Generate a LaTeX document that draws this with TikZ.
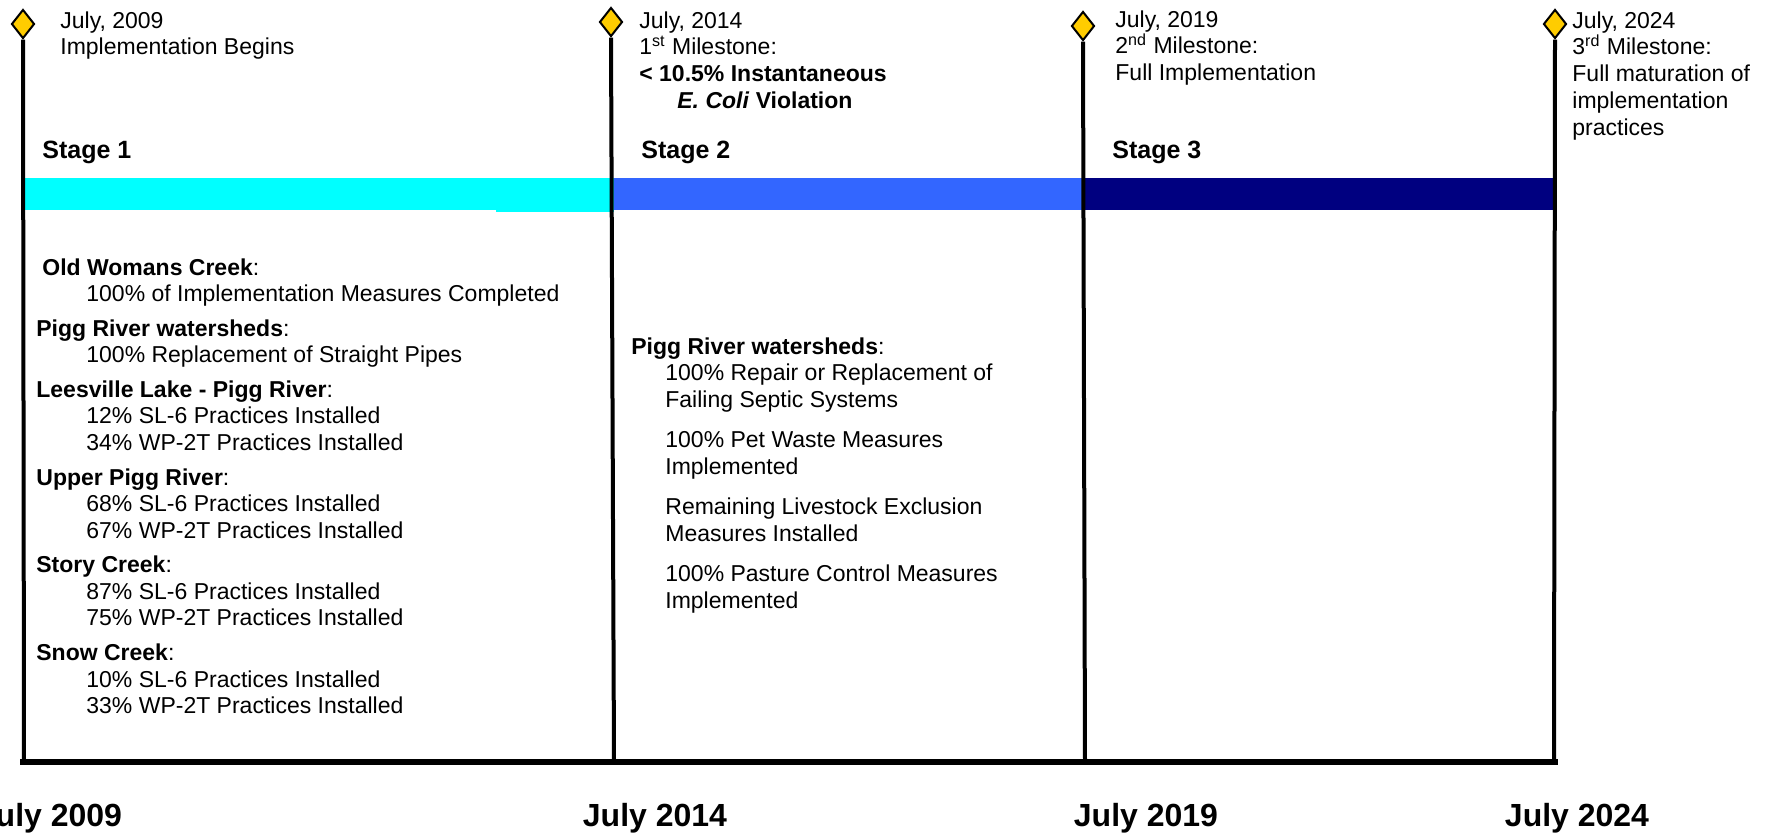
\documentclass[tikz,border=0pt]{standalone}
\usepackage{fontspec}
\setmainfont{Liberation Sans}
\usetikzlibrary{shapes.geometric}

\definecolor{gold}{HTML}{FFCC00}
\definecolor{stageone}{HTML}{00FFFF}
\definecolor{stagetwo}{HTML}{3366FF}
\definecolor{stagethree}{HTML}{000080}

\tikzset{
  milestone/.style={diamond, draw=black, line width=1pt, fill=gold, inner sep=0pt,
    minimum width=11.5pt, minimum height=14.5pt},
  note/.style={anchor=north west, align=left, inner sep=0pt,
    font=\fontsize{11.5}{13.4}\selectfont},
  stagelabel/.style={anchor=base west, inner sep=0pt, font=\fontsize{12.5}{15}\selectfont\bfseries},
  yearlabel/.style={anchor=base, inner sep=0pt, font=\fontsize{16}{19}\selectfont\bfseries},
  tline/.style={line width=2pt}
}

\begin{document}
\begin{tikzpicture}[x=0.5pt,y=-0.5pt]
    \useasboundingbox (0,0) rectangle (1779,832);

    % pruhy etap
    \fill[stageone] (24,178) rectangle (614,210);
    \fill[stageone] (496,178) rectangle (614,212);
    \fill[stagetwo] (614,178) rectangle (1085,210);
    \fill[stagethree] (1085,178) rectangle (1554,210);

    % milníky a svislé čáry
    \node[milestone] (m2009) at (23,24) {};
    \node[milestone] (m2014) at (611,22) {};
    \node[milestone] (m2019) at (1083,26) {};
    \node[milestone] (m2024) at (1555,24) {};
    \coordinate (b2009) at (24,762);
    \coordinate (b2014) at (614,762);
    \coordinate (b2019) at (1085,762);
    \coordinate (b2024) at (1554,762);
    \draw[tline] (m2009.south) -- (b2009);
    \draw[tline] (m2014.south) -- (b2014);
    \draw[tline] (m2019.south) -- (b2019);
    \draw[tline] (m2024.south) -- (b2024);
    \draw[line width=3.2pt] ([xshift=-2pt]b2009) -- ([xshift=2pt]b2024);

    % popisky milníků
    \node[note] (t2009) at (60,11) {July, 2009\\Implementation Begins};
    \node[note] (t2014) at (639,11) {July, 2014\\1\textsuperscript{st} Milestone:\\
      \textbf{< 10.5\% Instantaneous}\\\hspace*{19pt}\textbf{\textit{E. Coli} Violation}};
    \node[note] (t2019) at (1115,10) {July, 2019\\2\textsuperscript{nd} Milestone:\\Full Implementation};
    \node[note] (t2024) at (1572,11) {July, 2024\\3\textsuperscript{rd} Milestone:\\Full maturation of\\
      implementation\\practices};

    % etapy
    \node[stagelabel] (s1) at (42,158) {Stage 1};
    \node[stagelabel] (s2) at (641,158) {Stage 2};
    \node[stagelabel] (s3) at (1112,158) {Stage 3};

    % opatření
    \node[note, font=\fontsize{11.5}{13.25}\selectfont] (c1) at (36,258) {\hspace*{3pt}\textbf{Old Womans Creek}:\\
      \hspace*{25pt}100\% of Implementation Measures Completed\\[4.1pt]
      \textbf{Pigg River watersheds}:\\
      \hspace*{25pt}100\% Replacement of Straight Pipes\\[4.1pt]
      \textbf{Leesville Lake - Pigg River}:\\
      \hspace*{25pt}12\% SL-6 Practices Installed\\
      \hspace*{25pt}34\% WP-2T Practices Installed\\[4.1pt]
      \textbf{Upper Pigg River}:\\
      \hspace*{25pt}68\% SL-6 Practices Installed\\
      \hspace*{25pt}67\% WP-2T Practices Installed\\[4.1pt]
      \textbf{Story Creek}:\\
      \hspace*{25pt}87\% SL-6 Practices Installed\\
      \hspace*{25pt}75\% WP-2T Practices Installed\\[4.1pt]
      \textbf{Snow Creek}:\\
      \hspace*{25pt}10\% SL-6 Practices Installed\\
      \hspace*{25pt}33\% WP-2T Practices Installed};
    \node[note] (c2) at (631,337) {\textbf{Pigg River watersheds}:\\
      \hspace*{17pt}100\% Repair or Replacement of\\
      \hspace*{17pt}Failing Septic Systems\\[6.6pt]
      \hspace*{17pt}100\% Pet Waste Measures\\
      \hspace*{17pt}Implemented\\[6.6pt]
      \hspace*{17pt}Remaining Livestock Exclusion\\
      \hspace*{17pt}Measures Installed\\[6.6pt]
      \hspace*{17pt}100\% Pasture Control Measures\\
      \hspace*{17pt}Implemented};

    % roky pod osou
    \node[yearlabel] (y2009) at (50,826) {July 2009};
    \node[yearlabel] (y2014) at (655,826) {July 2014};
    \node[yearlabel] (y2019) at (1146,826) {July 2019};
    \node[yearlabel] (y2024) at (1577,826) {July 2024};
\end{tikzpicture}
\end{document}
